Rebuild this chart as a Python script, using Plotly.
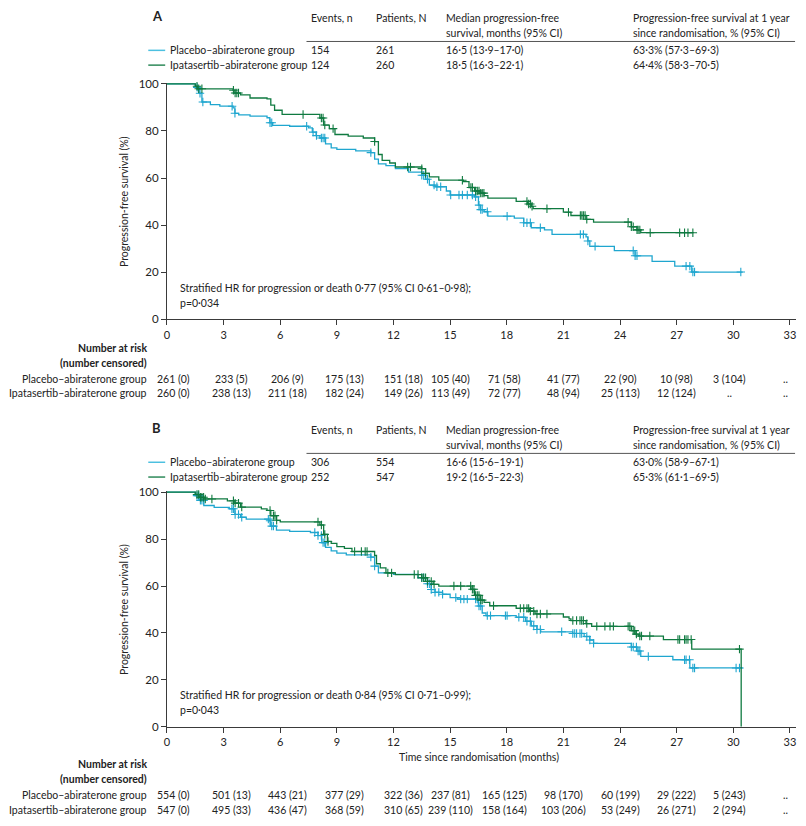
import numpy as np
import plotly.graph_objects as go

W, H = 806, 826
FONT = "Lato, Liberation Sans, sans-serif"
FS = 10.5
C_PLAC = "#1fa6cf"
C_IPAT = "#0f7a40"
C_PLAC_LEG = "#4cc0e0"
C_IPAT_LEG = "#2e8a5a"
TXT = "#222222"
AX = "#3a3a3a"

groups = ["Placebo–abiraterone group", "Ipatasertib–abiraterone group"]
x_ticks = [0, 3, 6, 9, 12, 15, 18, 21, 24, 27, 30, 33]
y_ticks = [0, 20, 40, 60, 80, 100]

# ---------------- Panel A (step curves: time, survival %) ----------------
a_plac_t = [0, 1.5, 1.7, 1.85, 2.3, 2.8, 3.5, 3.6, 3.8, 4.4, 5.3, 5.45, 5.6, 6.5, 7.5, 7.7, 7.9, 8.1, 8.4, 8.7,
            9.0, 10.0, 10.8, 11.0, 11.2, 11.6, 12.1, 12.8, 13.5, 13.7, 13.9, 14.2, 14.8, 15.0, 16.3, 16.5, 16.6,
            16.8, 17.0, 18.4, 18.9, 19.3, 20.0, 20.4, 22.2, 22.3, 22.4, 23.7, 24.8, 25.7, 26.9, 27.8, 30.5]
a_plac_s = [100, 98.5, 96, 92.3, 91.2, 90.5, 89.8, 87.5, 86.8, 86.3, 85.6, 83.5, 82.4, 82.0, 81.3, 79.5, 78.0, 77.0,
            74.5, 72.8, 72.2, 71.5, 70.8, 68.0, 66.0, 65.3, 64.0, 62.5, 61.2, 59.5, 57.0, 56.3, 54.5, 52.8, 52.0,
            48.5, 46.6, 45.7, 43.8, 43.0, 41.0, 38.9, 38.0, 36.1, 35.0, 33.3, 31.0, 29.2, 27.0, 24.6, 22.6, 20.1, 20.1]
a_plac_cens = [1.6, 1.75, 1.9, 3.45, 3.6, 5.46, 5.55, 7.4, 7.74, 7.92, 8.18, 8.27, 8.36, 10.8, 13.5, 13.6, 13.8,
               14.15, 14.3, 14.5, 15.03, 15.47, 15.65, 15.91, 16.18, 16.35, 16.53, 16.62, 16.7, 16.97, 18.02,
               18.9, 19.07, 19.25, 19.78, 21.9, 22.06, 22.3, 22.68, 24.7, 24.8, 24.9, 27.5, 27.7, 27.86, 27.95, 30.4]

a_ipat_t = [0, 1.5, 1.6, 3.5, 3.6, 3.9, 4.4, 5.3, 5.5, 5.7, 6.1, 8.1, 8.3, 8.6, 8.9, 9.6, 10.4, 11.0, 11.2, 11.4,
            11.8, 12.1, 13.5, 13.7, 13.9, 14.4, 15.7, 16.0, 16.3, 16.6, 16.8, 17.0, 18.5, 19.1, 19.3, 19.4, 21.0,
            21.4, 22.2, 22.6, 24.6, 24.9, 25.1, 27.9]
a_ipat_s = [100, 99, 97.9, 97.3, 96.1, 95.3, 94.0, 93.6, 91.0, 88.8, 87.0, 85.5, 82.5, 81.0, 78.5, 77.8, 77.0,
            75.5, 70.0, 67.5, 66.4, 64.7, 64.0, 62.0, 60.5, 59.1, 58.5, 56.0, 54.5, 53.6, 52.5, 51.5, 50.1, 49.0,
            48.0, 47.0, 45.5, 44.1, 42.5, 41.3, 39.3, 38.0, 36.8, 36.8]
a_ipat_cens = [1.59, 1.68, 1.85, 3.52, 3.61, 3.7, 3.79, 7.21, 8.18, 8.27, 8.36, 8.8, 11.0, 12.75, 12.9, 13.5,
               13.7, 15.65, 16.1, 16.18, 16.35, 16.44, 16.53, 16.62, 16.7, 16.79, 19.07, 19.16, 19.25, 19.34,
               20.13, 21.27, 21.9, 21.98, 22.06, 22.15, 22.24, 24.43, 24.6, 24.7, 24.9, 24.96, 25.05, 25.6,
               27.16, 27.42, 27.6, 27.86]

a_risk_plac = [261, 233, 206, 175, 151, 105, 71, 41, 22, 10, 3, None]
a_cens_plac = [0, 5, 9, 13, 18, 40, 58, 77, 90, 98, 104, None]
a_risk_ipat = [260, 238, 211, 182, 149, 113, 72, 48, 25, 12, None, None]
a_cens_ipat = [0, 13, 18, 24, 26, 49, 77, 94, 113, 124, None, None]

a_table = [["154", "261", "16·5 (13·9–17·0)", "63·3% (57·3–69·3)"],
           ["124", "260", "18·5 (16·3–22·1)", "64·4% (58·3–70·5)"]]
a_hr = "Stratified HR for progression or death 0·77 (95% CI 0·61–0·98);"
a_p = "p=0·034"

# ---------------- Panel B ----------------
b_plac_t = [0, 1.5, 1.7, 1.95, 2.5, 3.3, 3.6, 3.9, 4.2, 5.4, 5.5, 5.8, 6.5, 7.6, 8.0, 8.2, 8.4, 8.7, 9.0, 9.5,
            10.8, 11.0, 11.2, 12.0, 13.3, 13.8, 14.0, 14.2, 14.6, 15.0, 15.4, 16.5, 16.7, 16.9, 18.5, 19.0, 19.3,
            19.6, 19.8, 21.5, 22.1, 22.4, 22.6, 24.6, 24.9, 25.1, 26.8, 27.7, 30.5]
b_plac_s = [100, 98.5, 96.5, 94.3, 93.5, 92.9, 90.5, 89.3, 88.5, 87.8, 85.5, 83.8, 83.3, 82.8, 81.5, 78.5, 76.5,
            75.0, 74.0, 73.3, 72.3, 68.5, 65.6, 65.0, 63.6, 61.0, 58.5, 57.3, 56.5, 55.1, 54.4, 51.5, 48.5, 47.4,
            46.7, 45.0, 43.0, 41.5, 40.5, 39.8, 38.5, 37.0, 35.6, 34.0, 32.3, 30.0, 28.6, 25.1, 25.1]
b_plac_cens = [1.59, 1.68, 1.77, 1.85, 1.94, 3.44, 3.52, 3.61, 3.79, 3.96, 5.37, 5.46, 5.55, 5.64, 7.83, 8.0,
               8.18, 8.27, 8.36, 10.8, 11.0, 13.5, 13.6, 13.8, 13.9, 14.0, 14.2, 14.4, 14.6, 15.3, 15.56, 15.73,
               15.91, 16.35, 16.44, 16.53, 16.62, 16.97, 17.14, 17.93, 18.02, 18.64, 18.9, 19.07, 19.25, 19.43,
               19.6, 19.78, 20.91, 21.5, 21.6, 21.7, 21.88, 21.97, 22.24, 22.4, 22.6, 24.6, 24.7, 24.87, 24.96,
               25.05, 25.5, 27.42, 27.5, 27.68, 27.86, 27.95, 30.15, 30.33]

b_ipat_t = [0, 1.5, 1.7, 1.95, 3.2, 3.6, 3.9, 5.0, 5.3, 5.5, 5.8, 6.0, 8.1, 8.3, 8.5, 8.7, 9.0, 9.4, 9.8, 11.0,
            11.1, 11.3, 11.6, 12.1, 13.5, 13.8, 14.1, 14.4, 16.1, 16.3, 16.6, 16.8, 17.1, 18.5, 19.2, 19.5, 21.0,
            21.3, 21.4, 22.2, 22.5, 24.6, 24.8, 25.0, 26.3, 27.8, 30.42]
b_ipat_s = [100, 99, 97.8, 97.1, 96.3, 95.3, 93.6, 92.9, 92.2, 90.0, 88.0, 87.3, 86.0, 82.0, 79.0, 78.2, 76.8,
            76.0, 74.7, 73.0, 69.5, 67.7, 65.6, 64.9, 63.5, 62.0, 60.7, 60.0, 58.6, 56.0, 54.0, 53.0, 51.6, 50.5,
            49.3, 48.1, 46.8, 46.0, 45.3, 44.0, 42.8, 41.0, 39.5, 38.7, 37.2, 33.1, 0]
b_ipat_cens = [1.59, 1.68, 1.77, 1.85, 1.94, 2.03, 2.38, 3.52, 3.61, 3.79, 3.96, 5.46, 5.64, 5.72, 5.81, 8.0,
               8.18, 8.36, 8.53, 9.94, 10.3, 10.5, 10.6, 11.7, 11.9, 13.1, 13.3, 13.5, 13.6, 13.7, 13.8, 14.0,
               14.15, 15.2, 15.56, 16.09, 16.18, 16.26, 16.35, 16.44, 16.53, 16.62, 16.7, 17.3, 18.72, 18.9,
               19.07, 19.16, 19.25, 19.43, 19.6, 19.78, 20.13, 21.5, 21.7, 21.88, 21.97, 22.06, 22.24, 22.77,
               23.2, 23.47, 23.65, 24.43, 24.52, 24.7, 24.78, 24.87, 25.05, 25.14, 25.58, 27.07, 27.16, 27.42,
               27.5, 27.6, 27.77, 30.33]

b_risk_plac = [554, 501, 443, 377, 322, 237, 165, 98, 60, 29, 5, None]
b_cens_plac = [0, 13, 21, 29, 36, 81, 125, 170, 199, 222, 243, None]
b_risk_ipat = [547, 495, 436, 368, 310, 239, 158, 103, 53, 26, 2, None]
b_cens_ipat = [0, 33, 47, 59, 65, 110, 164, 206, 249, 271, 294, None]

b_table = [["306", "554", "16·6 (15·6–19·1)", "63·0% (58·9–67·1)"],
           ["252", "547", "19·2 (16·5–22·3)", "65·3% (61·1–69·5)"]]
b_hr = "Stratified HR for progression or death 0·84 (95% CI 0·71–0·99);"
b_p = "p=0·043"

col_heads = [["Events, n"], ["Patients, N"], ["Median progression-free", "survival, months (95% CI)"],
             ["Progression-free survival at 1 year", "since randomisation, % (95% CI)"]]


def step_at(times, surv, t):
    times = np.asarray(times)
    idx = np.searchsorted(times, np.asarray(t), side="right") - 1
    return np.asarray(surv)[idx]


def fx(px):
    return px / W


def fy(py):
    return 1 - py / H


# layout geometry (pixels)
X0, X1, XMAX = 164.8, 796.5, 33.3
panels = {
    "A": dict(y0=318.0, unit=2.39, top=0),
    "B": dict(y0=731.5, unit=2.382, top=418),
}
YMAX = 100.5

fig = go.Figure()

annotations = []
shapes = []


def ann(x, y, text, xanchor="left", size=FS, color=TXT, bold=False, **kw):
    if bold:
        text = "<b>" + text + "</b>"
    annotations.append(dict(x=fx(x), y=fy(y), xref="paper", yref="paper", text=text, showarrow=False,
                            xanchor=xanchor, yanchor="middle", font=dict(family=FONT, size=size, color=color),
                            **kw))


col_x = [308, 373, 443, 631]
risk_shift = [7, 8, 7, 8, 10, 0, -2, 0, 0, 0, -4, -4]

datasets = {
    "A": (a_plac_t, a_plac_s, a_plac_cens, a_ipat_t, a_ipat_s, a_ipat_cens, a_risk_plac, a_cens_plac,
          a_risk_ipat, a_cens_ipat, a_table, a_hr, a_p),
    "B": (b_plac_t, b_plac_s, b_plac_cens, b_ipat_t, b_ipat_s, b_ipat_cens, b_risk_plac, b_cens_plac,
          b_risk_ipat, b_cens_ipat, b_table, b_hr, b_p),
}

for i, key in enumerate(["A", "B"]):
    (pt, ps, pc, it, is_, ic, rp, cp, ri, ci, table, hr, pval) = datasets[key]
    g = panels[key]
    xa = "x" if i == 0 else "x2"
    ya = "y" if i == 0 else "y2"
    # curves
    for t, s, c, col in [(pt, ps, pc, C_PLAC), (it, is_, ic, C_IPAT)]:
        fig.add_trace(go.Scatter(x=t, y=s, mode="lines", line=dict(color=col, width=1.3, shape="hv"),
                                 xaxis=xa, yaxis=ya, showlegend=False, hoverinfo="skip"))
        fig.add_trace(go.Scatter(x=c, y=step_at(t, s, c), mode="markers",
                                 marker=dict(symbol="cross-thin-open", size=6, color=col,
                                             line=dict(color=col, width=1.1)),
                                 xaxis=xa, yaxis=ya, showlegend=False, hoverinfo="skip", cliponaxis=False))
    ydom = [fy(g["y0"]), fy(g["y0"] - YMAX * g["unit"])]
    axx = dict(domain=[fx(X0), fx(X1)], range=[0, XMAX], tickvals=x_ticks, ticks="outside", ticklen=5,
               tickcolor=AX, showline=True, linecolor=AX, linewidth=1, showgrid=False, zeroline=False,
               tickfont=dict(family=FONT, size=11, color=TXT), anchor=ya, fixedrange=True)
    axy = dict(domain=ydom, range=[0, YMAX], tickvals=y_ticks, ticks="outside", ticklen=5, tickcolor=AX,
               showline=True, linecolor=AX, linewidth=1, showgrid=False, zeroline=False,
               tickfont=dict(family=FONT, size=11.5, color=TXT), anchor=xa, fixedrange=True)
    if i == 0:
        fig.update_layout(xaxis=axx, yaxis=axy)
    else:
        fig.update_layout(xaxis2=axx, yaxis2=axy)

    top = g["top"]
    # header table
    ann(148, top + 10, key, size=13, bold=True)
    for cx, lines in zip(col_x, col_heads):
        for k, line in enumerate(lines):
            ann(cx, top + 12 + 15 * k, line)
    shapes.append(dict(type="line", xref="paper", yref="paper", x0=fx(305), x1=fx(796), y0=fy(top + 36),
                       y1=fy(top + 36), line=dict(color="#555", width=1)))
    for r, (gname, lcol) in enumerate(zip(groups, [C_PLAC_LEG, C_IPAT_LEG])):
        yy = top + 45 + 15 * r
        shapes.append(dict(type="line", xref="paper", yref="paper", x0=fx(146), x1=fx(163), y0=fy(yy),
                           y1=fy(yy), line=dict(color=lcol, width=1.5)))
        ann(166, yy, gname)
        for cx, val in zip(col_x, table[r]):
            ann(cx, yy, val)

    # y axis title
    ymid = g["y0"] - 50 * g["unit"]
    annotations.append(dict(x=fx(121), y=fy(ymid), xref="paper", yref="paper",
                            text="Progression-free survival (%)", textangle=-90, showarrow=False,
                            xanchor="center", yanchor="middle", font=dict(family=FONT, size=FS, color=TXT)))
    # HR text
    ann(176, g["y0"] - 32, hr)
    ann(176, g["y0"] - 17, pval)

    # number at risk
    base = g["y0"] + 29
    if key == "B":
        ann(478, g["y0"] + 31, "Time since randomisation (months)", xanchor="center")
        base = g["y0"] + 38
    ann(147, base, "Number at risk", xanchor="right", bold=True)
    ann(147, base + 15, "(number censored)", xanchor="right", bold=True)
    for r, (risk, cens) in enumerate([(rp, cp), (ri, ci)]):
        yy = base + 31 + 15 * r
        ann(147, yy, groups[r], xanchor="right")
        for j, (tk, n, c) in enumerate(zip(x_ticks, risk, cens)):
            txt = ".." if n is None else f"{n} ({c})"
            px = X0 + tk / XMAX * (X1 - X0) + risk_shift[j]
            ann(px, yy, txt, xanchor="center")

fig.update_layout(width=W, height=H, margin=dict(l=0, r=0, t=0, b=0), paper_bgcolor="white",
                  plot_bgcolor="white", annotations=annotations, shapes=shapes,
                  font=dict(family=FONT, size=FS, color=TXT))
fig.write_html("out.html")
